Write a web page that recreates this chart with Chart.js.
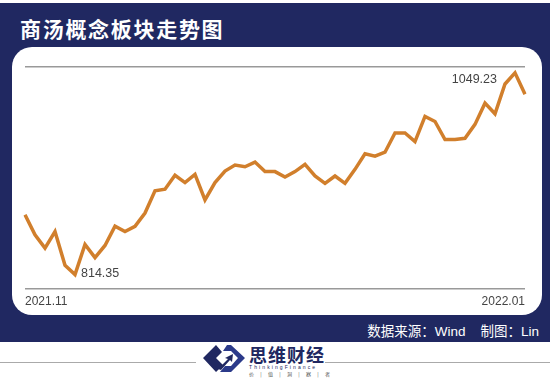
<!DOCTYPE html>
<html>
<head>
<meta charset="utf-8">
<script src="https://cdn.jsdelivr.net/npm/chart.js@4"></script>
<style>
  body { margin: 0; width: 550px; height: 379px; background: #fff; position: relative; overflow: hidden;
         font-family: "Liberation Sans", Arial, "Noto Sans CJK SC", sans-serif; }
  #band { position: absolute; left: 0; top: 3px; width: 550px; height: 339px; background: #202861; }
  #title { position: absolute; left: 20px; top: 13px; color: #fff; font-size: 21px; font-weight: bold;
           letter-spacing: 1.7px; font-family: "Noto Sans CJK SC", sans-serif; }
  #panel { position: absolute; left: 12px; top: 47px; width: 530px; height: 268px; background: #fff; border-radius: 20px; }
  #source { position: absolute; right: 11px; top: 320px; color: #fff; font-size: 13.5px;
            font-family: "Liberation Sans", "Noto Sans CJK SC", sans-serif; white-space: pre; }
  .rule { position: absolute; top: 362px; height: 1px; background: #aaa; }
  #brand { position: absolute; left: 249px; top: 344px; color: #202861; font-size: 18px; font-weight: bold;
           letter-spacing: 1px; font-family: "Noto Sans CJK SC", sans-serif; line-height: 20px; }
  #brand .en { font-size: 5px; letter-spacing: 2.1px; font-weight: normal; line-height: 6px; font-family: "Liberation Sans", sans-serif; }
  #brand .cn { font-size: 5px; letter-spacing: 2.6px; font-weight: normal; line-height: 7px; color: #555; }
</style>
</head>
<body>
<div id="band"></div>
<div id="title">商汤概念板块走势图</div>
<div id="panel"><canvas id="trendChart" width="530" height="268"></canvas></div>
<div id="source">数据来源：Wind    制图：Lin</div>
<div class="rule" style="left:0;width:196px"></div>
<div class="rule" style="left:325px;width:225px"></div>
<svg style="position:absolute;left:200px;top:344px" width="48" height="30" viewBox="0 0 46 30">
  <path d="M15 1 L2 14 L15 28 L22 21 L15 14 L21 8 Z" fill="#202861"/>
  <path d="M30 1 L44 14 L30 28 L19 28 L24 22 L30 22 L37 14 L30 7 L22 7 L26 1 Z" fill="#2b3a8a"/>
  <path d="M17 25 L27 15 L24 14 L32 10 L31 18 L29 16 L20 26 Z" fill="#202861"/>
</svg>
<div id="brand">思维财经<div class="en">ThinkingFinance</div><div class="cn">价 | 值 | 洞 | 察 | 者</div></div>

<script>
'use strict';

// Daily index values (2021.11 -> 2022.01)
const values = [
    884.0, 860.6, 845.2, 864.4, 825.1, 814.35, 849.4, 834.0, 848.2, 870.6,
    864.4, 870.4, 886.0, 911.8, 913.7, 929.9, 921.4, 931.0, 901.3, 921.4,
    934.9, 941.8, 939.9, 945.3, 934.2, 934.2, 927.9, 934.2, 942.6, 929.1,
    920.6, 929.1, 920.6, 936.8, 954.9, 952.2, 956.8, 979.2, 979.2, 969.2,
    998.4, 992.6, 971.5, 971.5, 973.0, 989.2, 1013.9, 1001.5, 1036.2, 1049.23,
    1024.4
];
const categories = values.map((v, i) => i);
const tickLabels = ['2021.11', '2022.01'];
const yMin = 798;
const yMax = 1056;

// Draw the low / high values next to their points
const extremaLabels = {
    id: 'extremaLabels',
    afterDatasetsDraw(chart) {
        const meta = chart.getDatasetMeta(0);
        const lo = values.indexOf(Math.min(...values));
        const hi = values.indexOf(Math.max(...values));
        const ctx = chart.ctx;
        ctx.save();
        ctx.fillStyle = '#444';
        ctx.font = '12.5px "Liberation Sans", Arial, sans-serif';
        ctx.textAlign = 'left';
        ctx.textBaseline = 'middle';
        ctx.fillText(values[lo].toFixed(2), meta.data[lo].x + 6, meta.data[lo].y - 1.5);
        ctx.textAlign = 'right';
        ctx.textBaseline = 'top';
        ctx.fillText(values[hi].toFixed(2), meta.data[hi].x - 18, meta.data[hi].y);
        ctx.restore();
    }
};

const ctx = document.getElementById('trendChart').getContext('2d');
const trendChart = new Chart(ctx, {
    type: 'line',
    data: {
        labels: categories,
        datasets: [{
            data: values,
            borderColor: '#d17f2c',
            borderWidth: 3.5,
            pointRadius: 0,
            tension: 0,
            fill: false
        }]
    },
    options: {
        responsive: false,
        animation: false,
        layout: { padding: { left: 13, right: 17, top: 20, bottom: 8 } },
        plugins: { legend: { display: false }, tooltip: { enabled: false } },
        scales: {
            x: {
                grid: { display: false },
                border: { display: false },
                ticks: {
                    autoSkip: false,
                    maxRotation: 0,
                    align: 'inner',
                    padding: -2,
                    color: '#444',
                    font: { size: 12, family: '"Liberation Sans", Arial, sans-serif' },
                    callback: (v, i, ticks) => i === 0 ? tickLabels[0] : (i === ticks.length - 1 ? tickLabels[1] : '')
                }
            },
            y: {
                min: yMin,
                max: yMax,
                afterBuildTicks: (scale) => { scale.ticks = [{ value: yMin }, { value: yMax }]; },
                ticks: { display: false },
                border: { display: false },
                grid: { color: '#999', lineWidth: 1.5, drawTicks: false }
            }
        }
    },
    plugins: [extremaLabels]
});
</script>
</body>
</html>
